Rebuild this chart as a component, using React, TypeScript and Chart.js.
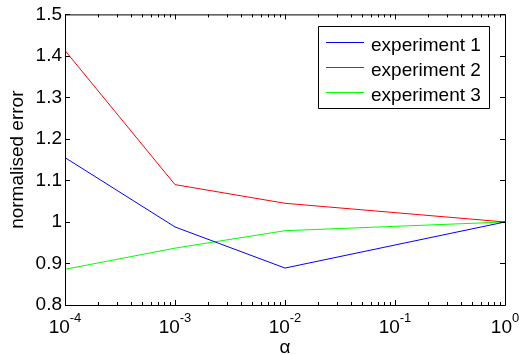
import React, { useEffect, useRef } from "react";
import { Chart, registerables } from "chart.js";

Chart.register(...registerables);

const alphaValues = [1e-4, 1e-3, 1e-2, 1];
const experiment1 = [1.155, 0.988, 0.889, 1.0];
const experiment2 = [1.413, 1.09, 1.045, 1.0];
const experiment3 = [0.886, 0.937, 0.979, 1.0];
const seriesLabels = ["experiment 1", "experiment 2", "experiment 3"];
const seriesColors = ["#0000ff", "#ff0000", "#00ff00"];
const xTickValues = [1e-4, 1e-3, 1e-2, 1e-1, 1];
const xTickExponents = ["-4", "-3", "-2", "-1", "0"];
const yTickValues = [0.8, 0.9, 1.0, 1.1, 1.2, 1.3, 1.4, 1.5];
const yTickLabels = ["0.8", "0.9", "1", "1.1", "1.2", "1.3", "1.4", "1.5"];
const xAxisTitle = "α";
const yAxisTitle = "normalised error";

const FONT = '"Liberation Sans", Arial, Helvetica, sans-serif';

const matlabPlugin = {
  id: "matlabAxes",
  afterDraw(chart: any) {
    const ctx = chart.ctx;
    const { left, right, top, bottom } = chart.chartArea;
    const xs = chart.scales.x;
    const ys = chart.scales.y;
    ctx.save();
    ctx.strokeStyle = "#000";
    ctx.lineWidth = 1;
    // box
    ctx.beginPath();
    ctx.rect(left + 0.5, top + 0.5, right - left, bottom - top);
    ctx.stroke();
    // x major ticks
    ctx.beginPath();
    xTickValues.forEach((v) => {
      const px = Math.round(xs.getPixelForValue(v)) + 0.5;
      ctx.moveTo(px, bottom);
      ctx.lineTo(px, bottom - 5);
      ctx.moveTo(px, top);
      ctx.lineTo(px, top + 5);
    });
    // x minor ticks
    for (let d = -4; d < 0; d++) {
      for (let k = 2; k <= 9; k++) {
        const v = k * Math.pow(10, d);
        const px = Math.round(xs.getPixelForValue(v)) + 0.5;
        ctx.moveTo(px, bottom);
        ctx.lineTo(px, bottom - 3);
        ctx.moveTo(px, top);
        ctx.lineTo(px, top + 3);
      }
    }
    // y ticks
    yTickValues.forEach((v) => {
      const py = Math.round(ys.getPixelForValue(v)) + 0.5;
      ctx.moveTo(left, py);
      ctx.lineTo(left + 5, py);
      ctx.moveTo(right, py);
      ctx.lineTo(right - 5, py);
    });
    ctx.stroke();

    // x tick labels 10^n
    ctx.fillStyle = "#000";
    ctx.textBaseline = "alphabetic";
    ctx.textAlign = "left";
    xTickValues.forEach((v, i) => {
      const px = xs.getPixelForValue(v);
      ctx.font = `19px ${FONT}`;
      const w1 = ctx.measureText("10").width;
      ctx.font = `13px ${FONT}`;
      const w2 = ctx.measureText(xTickExponents[i]).width;
      const start = px - (w1 + w2) / 2;
      ctx.font = `19px ${FONT}`;
      ctx.fillText("10", start, 333);
      ctx.font = `13px ${FONT}`;
      ctx.fillText(xTickExponents[i], start + w1, 322);
    });

    // x axis title
    ctx.font = `19px ${FONT}`;
    ctx.textAlign = "center";
    ctx.fillText(xAxisTitle, (left + right) / 2, 353);

    // legend
    const lx = 318.5, ly = 26.5, lw = 171, lh = 82;
    ctx.fillStyle = "#fff";
    ctx.fillRect(lx, ly, lw, lh);
    ctx.strokeStyle = "#000";
    ctx.beginPath();
    ctx.rect(lx, ly, lw, lh);
    ctx.stroke();
    chart.data.datasets.forEach((ds: any, i: number) => {
      const y = 42.5 + 25 * i;
      ctx.strokeStyle = ds.borderColor;
      ctx.lineWidth = 1;
      ctx.beginPath();
      ctx.moveTo(326, y);
      ctx.lineTo(364, y);
      ctx.stroke();
      ctx.fillStyle = "#000";
      ctx.font = `19px ${FONT}`;
      ctx.textAlign = "left";
      ctx.fillText(ds.label, 371, y + 8);
    });
    ctx.restore();
  },
};

export default function App() {
  const canvasRef = useRef<HTMLCanvasElement>(null);

  useEffect(() => {
    document.body.style.margin = "0";
    const canvas = canvasRef.current;
    if (!canvas) return;
    const seriesValues = [experiment1, experiment2, experiment3];
    const chart = new Chart(canvas, {
      type: "line",
      data: {
        datasets: seriesValues.map((vals, i) => ({
          label: seriesLabels[i],
          data: alphaValues.map((a, j) => ({ x: a, y: vals[j] })),
          borderColor: seriesColors[i],
          backgroundColor: seriesColors[i],
          borderWidth: 1,
          pointRadius: 0,
          tension: 0,
          fill: false,
        })),
      },
      options: {
        animation: false,
        responsive: false,
        devicePixelRatio: 1,
        layout: { padding: { top: 14, right: 14, left: 0, bottom: 0 } },
        plugins: {
          legend: { display: false },
          tooltip: { enabled: false },
        },
        scales: {
          x: {
            type: "logarithmic",
            min: 1e-4,
            max: 1,
            grid: { display: false },
            border: { display: false },
            ticks: { display: false },
            afterBuildTicks: (s: any) => {
              s.ticks = xTickValues.map((v) => ({ value: v }));
            },
            afterFit: (s: any) => {
              s.height = 50;
            },
          },
          y: {
            type: "linear",
            min: 0.8,
            max: 1.5,
            grid: { display: false, drawTicks: false },
            border: { display: false },
            afterBuildTicks: (s: any) => {
              s.ticks = yTickValues.map((v) => ({ value: v }));
            },
            ticks: {
              color: "#000",
              padding: 3,
              font: { family: FONT, size: 19 },
              callback: (value: any) => {
                const idx = yTickValues.findIndex((v) => Math.abs(v - Number(value)) < 1e-9);
                return idx >= 0 ? yTickLabels[idx] : "";
              },
            },
            title: {
              display: true,
              text: yAxisTitle,
              color: "#000",
              font: { family: FONT, size: 19 },
              padding: { top: 6, bottom: 0 },
            },
            afterFit: (s: any) => {
              s.width = 65;
            },
          },
        },
      } as any,
      plugins: [matlabPlugin],
    });
    return () => chart.destroy();
  }, []);

  return (
    <div style={{ position: "fixed", left: 0, top: 0, width: 519, height: 355, background: "#fff" }}>
      <canvas ref={canvasRef} width={519} height={355} />
    </div>
  );
}
